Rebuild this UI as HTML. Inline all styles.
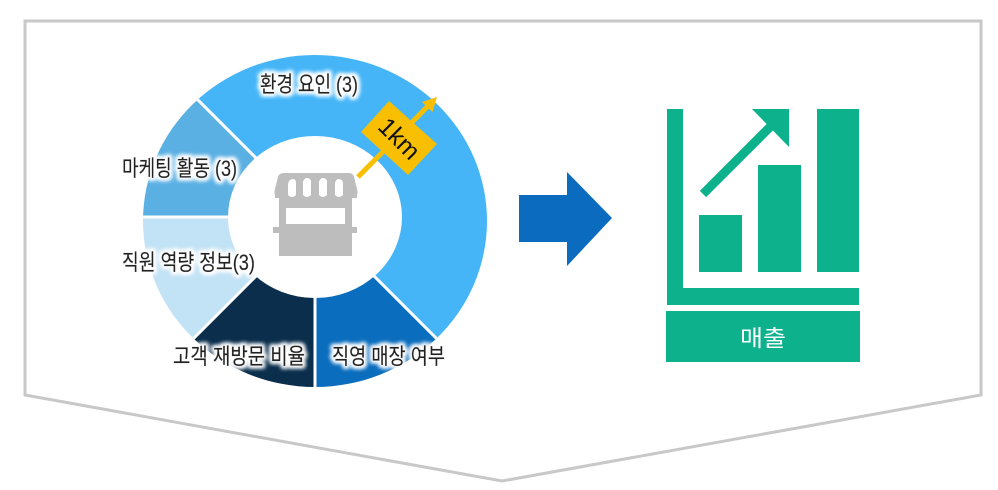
<!DOCTYPE html>
<html>
<head>
<meta charset="utf-8">
<style>
  html,body{margin:0;padding:0;background:#fff;width:998px;height:490px;overflow:hidden;position:relative;}
  svg{display:block;position:absolute;left:0;top:0;}
  .lbl{font-family:"Liberation Sans","Noto Sans CJK KR","NanumGothic",sans-serif;font-size:22px;fill:#222;stroke:#222;stroke-width:0.35px;}
</style>
</head>
<body>
<svg width="998" height="490" viewBox="0 0 998 490" xmlns="http://www.w3.org/2000/svg" style="overflow:hidden">
  <defs>
    <clipPath id="donut">
      <ellipse cx="315" cy="221" rx="172" ry="166"/>
    </clipPath>
    <filter id="halo" x="-10%" y="-30%" width="120%" height="160%">
      <feMorphology in="SourceAlpha" operator="dilate" radius="2" result="d"/>
      <feGaussianBlur in="d" stdDeviation="2" result="b"/>
      <feFlood flood-color="#ffffff" result="w"/>
      <feComposite in="w" in2="b" operator="in" result="glow"/>
      <feMerge>
        <feMergeNode in="glow"/>
        <feMergeNode in="glow"/>
        <feMergeNode in="SourceGraphic"/>
      </feMerge>
    </filter>
  </defs>

  <!-- outer chevron frame -->
  <polygon points="25,21 981,21 981,395 502,481 25,395" fill="#ffffff" stroke="#c8c8c8" stroke-width="3" stroke-linejoin="miter"/>

  <!-- donut -->
  <g clip-path="url(#donut)">
    <polygon points="140,42 490,42 490,392" fill="#45b5f7"/>
    <polygon points="315,217 490,392 315,392" fill="#0a6dbd"/>
    <polygon points="315,217 315,392 140,392" fill="#0a2e4c"/>
    <polygon points="315,217 140,392 140,217" fill="#c2e2f5"/>
    <polygon points="315,217 140,217 140,42" fill="#5bb0e3"/>
    <g stroke="#ffffff" stroke-width="3">
      <line x1="315" y1="217" x2="140" y2="42"/>
      <line x1="315" y1="217" x2="490" y2="392"/>
      <line x1="315" y1="217" x2="315" y2="392"/>
      <line x1="315" y1="217" x2="140" y2="392"/>
      <line x1="315" y1="217" x2="140" y2="217"/>
    </g>
  </g>
  <ellipse cx="315" cy="217" rx="87" ry="81" fill="#ffffff"/>

  <!-- store icon -->
  <g fill="#bdbdbd">
    <path d="M284,173 L349,173 Q353,173 354,177 L357,189 Q358,193 357,195 L357,198 L275,198 L275,195 Q274,193 275,189 L278,177 Q279,173 284,173 Z"/>
    <rect x="279" y="196" width="73" height="60"/>
    <rect x="273" y="227" width="84" height="6"/>
  </g>
  <g fill="#ffffff">
    <rect x="286" y="208" width="59" height="16"/>
    <path d="M288,184 Q289,179 293,179 Q296,179 296,183 L296,195 Q292,199 288,195 Z"/>
    <path d="M303,182 Q304,178 307,178 Q311,178 311,182 L311,195 Q307,199 303,195 Z"/>
    <path d="M319,182 Q320,178 323,178 Q327,178 327,182 L327,195 Q323,199 319,195 Z"/>
    <path d="M335,183 Q336,179 339,179 Q343,179 343,184 L343,195 Q339,199 335,195 Z"/>
  </g>

  <!-- 1km sign -->
  <line x1="358" y1="177" x2="429" y2="105" stroke="#f7bf00" stroke-width="5"/>
  <polygon points="437,97 432.5,112 422,102" fill="#f7bf00"/>
  <polygon points="389,101 437,144 408,175 361,132" fill="#f7bf00"/>
  <text x="399" y="139" transform="rotate(45 399 139)" text-anchor="middle" dominant-baseline="central" font-family="Liberation Sans, sans-serif" font-size="25" fill="#111">1km</text>

  <!-- donut labels -->
  <g filter="url(#halo)">
    <text class="lbl" x="260" y="92" textLength="98" lengthAdjust="spacingAndGlyphs">환경 요인 (3)</text>
    <text class="lbl" x="122" y="176" textLength="115" lengthAdjust="spacingAndGlyphs">마케팅 활동 (3)</text>
    <text class="lbl" x="122" y="270" textLength="133" lengthAdjust="spacingAndGlyphs">직원 역량 정보(3)</text>
    <text class="lbl" x="173" y="364" textLength="132" lengthAdjust="spacingAndGlyphs">고객 재방문 비율</text>
    <text class="lbl" x="332" y="364" textLength="113" lengthAdjust="spacingAndGlyphs">직영 매장 여부</text>
  </g>

  <!-- blue arrow -->
  <polygon points="519,195 567,195 567,172 612,218 567,266 567,242 519,242" fill="#0b6bbf"/>

  <!-- green chart -->
  <g fill="#0db28c">
    <rect x="667" y="109" width="16" height="196"/>
    <rect x="667" y="288" width="192" height="17"/>
    <rect x="699" y="215" width="43" height="57"/>
    <rect x="758" y="165" width="43" height="107"/>
    <rect x="817" y="109" width="42" height="163"/>
    <polygon points="752,109 789,109 789,147"/>
    <rect x="666" y="311" width="194" height="51"/>
  </g>
  <line x1="703" y1="194" x2="776" y2="121" stroke="#0db28c" stroke-width="9"/>
  <text x="763" y="346" text-anchor="middle" font-family="Liberation Sans, Noto Sans CJK KR, sans-serif" font-size="23" fill="#ffffff" textLength="46" lengthAdjust="spacingAndGlyphs">매출</text>
</svg>
</body>
</html>
